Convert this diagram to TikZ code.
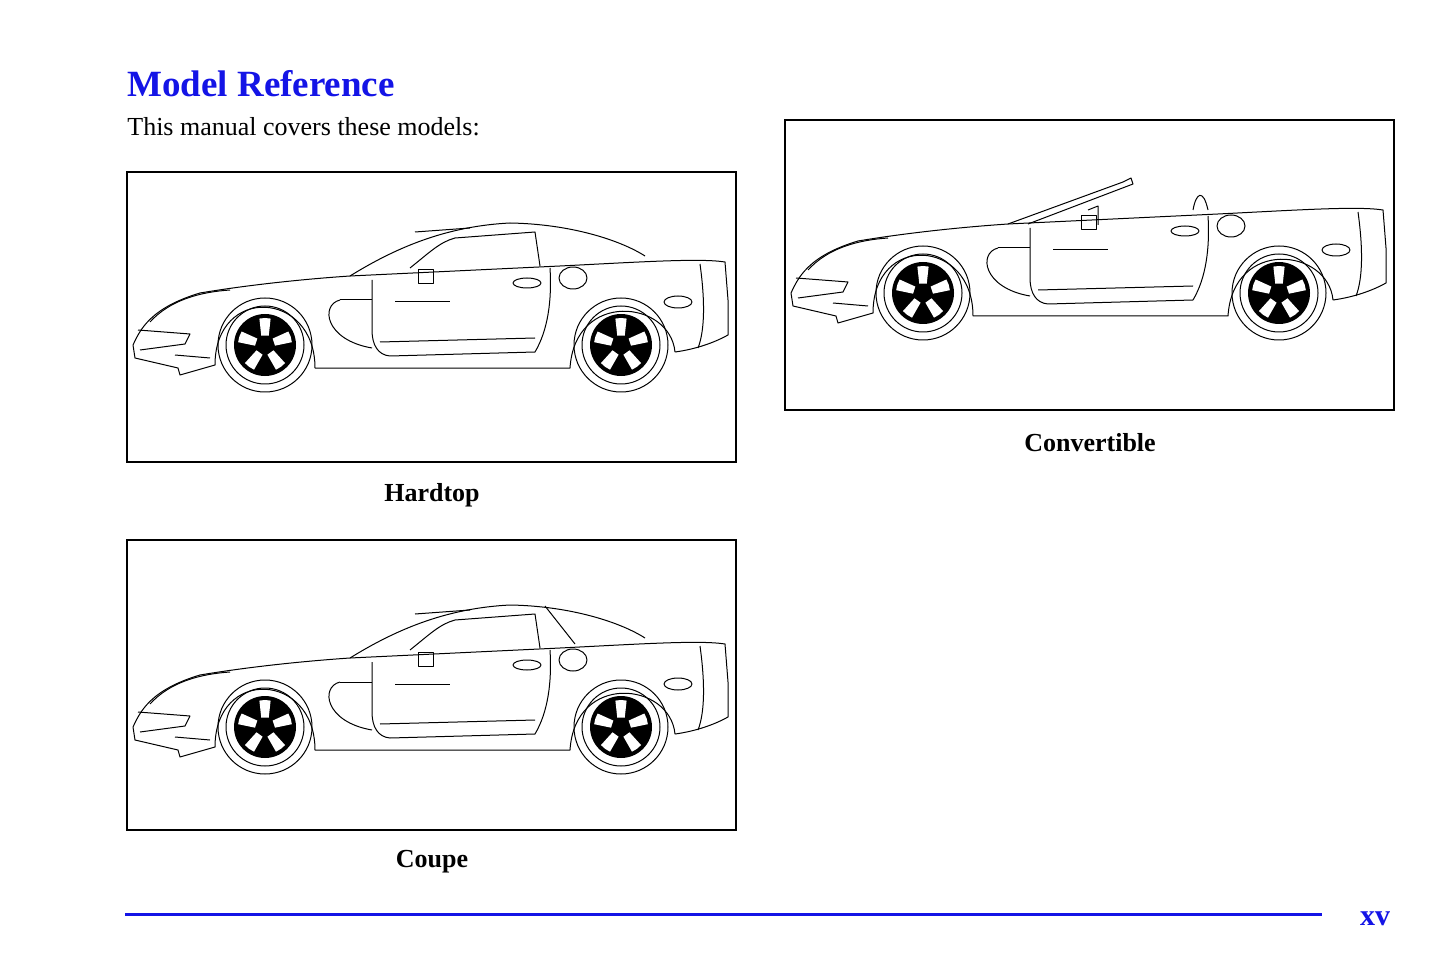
\documentclass[tikz,border=0pt]{standalone}
\usepackage{fontspec}
\setmainfont{Liberation Serif}
\definecolor{manblue}{RGB}{20,20,230}
\tikzset{every picture/.style={line width=0.75pt}}
\tikzset{
  frame/.style={draw, line width=2pt},
  modelname/.style={font=\bfseries\fontsize{26}{30}\selectfont},
  carline/.style={line width=1pt, line join=round},
}
% one wheel at (#1,#2)
\newcommand\carwheel[2]{%
  \draw[carline] (#1,#2) circle (47) (#1,#2) circle (39);
  \fill (#1,#2) circle (31);
  \foreach \a in {90,162,234,306,18} {
    \fill[white] ([shift={(\a+14:10)}]#1,#2) -- ([shift={(\a+24:27)}]#1,#2) arc[start angle=\a+24, end angle=\a+48, radius=27] -- ([shift={(\a+58:10)}]#1,#2) -- cycle;
  }
  \draw[carline] (#1,#2) circle (8);
  \fill (#1,#2) circle (3);
}
% body, roof-less (hardtop coordinates)
\newcommand\carbody{%
  \draw[carline] (133,345) .. controls (140,330) and (150,308) .. (200,293) .. controls (260,283) and (320,278) .. (350,276) -- (560,266) .. controls (640,262) and (700,258) .. (725,262) -- (728,300) -- (728,335) .. controls (710,345) and (690,350) .. (675,352) .. controls (670,300) and (575,290) .. (570,368) -- (315,368) .. controls (315,290) and (215,285) .. (215,365) -- (180,375) -- (178,368) -- (135,358) -- cycle;
  \draw[carline] (372,280) -- (372,330) .. controls (372,345) and (378,355) .. (390,356) -- (535,352) .. controls (548,330) and (552,300) .. (550,268);
  \draw[carline] (380,342) -- (535,338);
  \draw[carline] (340,300) .. controls (320,305) and (325,340) .. (372,348);
  \draw[carline] (340,300) -- (372,300);
  \draw[carline] (395,302) -- (450,302);
  \draw[carline] (527,283) ellipse (14 and 5);
  \draw[carline] (573,278) ellipse (14 and 11);
  \draw[carline] (678,302) ellipse (14 and 6);
  \draw[carline] (700,264) .. controls (705,300) and (705,330) .. (698,348);
  \draw[carline] (138,330) -- (190,334) -- (185,344) -- (140,350);
  \draw[carline] (150,322) .. controls (170,300) and (200,292) .. (230,290);
  \draw[carline] (175,355) -- (210,358);
}
% roof for hardtop and coupe
\newcommand\carroof{%
  \draw[carline] (350,276) .. controls (400,245) and (450,226) .. (510,223) .. controls (570,224) and (620,240) .. (645,256);
  \draw[carline] (410,268) .. controls (430,252) and (440,242) .. (455,238) -- (535,232) -- (540,266);
  \draw[carline] (418,270) rectangle (433,284);
  \draw[carline] (415,232) -- (470,228);
}
\begin{document}
\begin{tikzpicture}[x=1pt,y=1pt,yscale=-1,xscale=1]
\useasboundingbox (0,0) rectangle (1445,965);

% Title
\node[anchor=base west, inner sep=0, text=manblue, font=\bfseries\fontsize{37}{40}\selectfont] (title) at (127,97) {Model Reference};
\node[anchor=base west, inner sep=0, font=\fontsize{26}{30}\selectfont] (intro) at (127,136) {This manual covers these models:};

% Frames
\draw[frame] (127,172) rectangle (736,462);
\draw[frame] (785,120) rectangle (1394,410);
\draw[frame] (127,540) rectangle (736,830);

% Hardtop
\carbody
\carroof
\carwheel{265}{345}
\carwheel{621}{345}

% Convertible
\begin{scope}[shift={(658,-52)}]
\carbody
\draw[carline] (350,276) -- (465,234) -- (473,230) -- (475,236) -- (370,276);
\draw[carline] (430,262) -- (440,258) -- (440,277);
\draw[carline] (423,268) rectangle (438,282);
\draw[carline] (535,262) .. controls (538,245) and (545,240) .. (550,262);
\carwheel{265}{345}
\carwheel{621}{345}
\end{scope}

% Coupe
\begin{scope}[shift={(0,382)}]
\carbody
\carroof
\draw[carline] (545,224) -- (575,262);
\carwheel{265}{345}
\carwheel{621}{345}
\end{scope}

% Captions
\node[modelname] (hardtop) at (432,495) {Hardtop};
\node[modelname] (convertible) at (1090,443) {Convertible};
\node[modelname] (coupe) at (432,862) {Coupe};

% Footer
\draw[manblue, line width=3pt] (125,914) -- (1322,914);
\node[anchor=base, text=manblue, font=\bfseries\fontsize{30}{34}\selectfont] (page) at (1375,925) {xv};
\end{tikzpicture}
\end{document}
